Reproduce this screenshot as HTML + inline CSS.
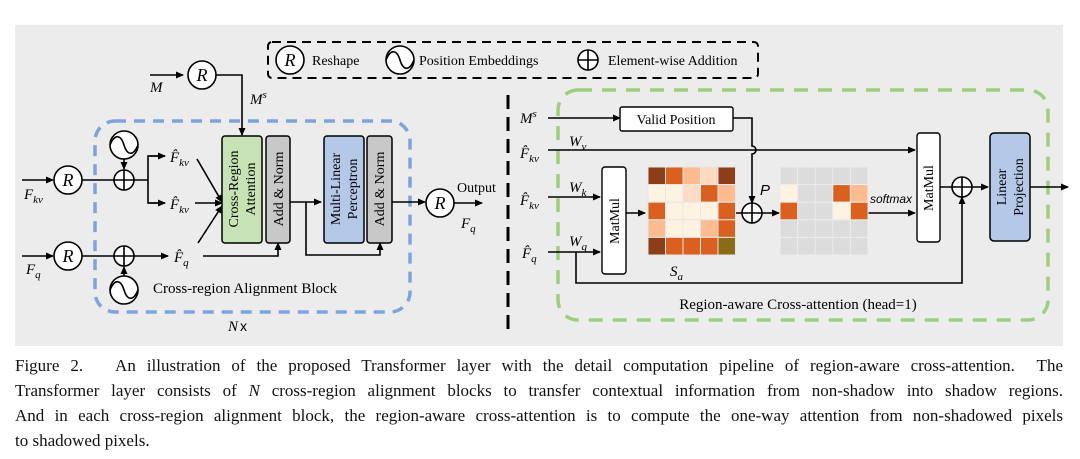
<!DOCTYPE html>
<html><head><meta charset="utf-8"><style>
body{margin:0;background:#fff;width:1080px;height:459px;overflow:hidden;font-family:"Liberation Serif",serif}
#cap{position:absolute;left:15px;top:353px;width:1048px;font-size:17px;line-height:25px;color:#111}
#cap div{text-align:justify;text-align-last:justify;white-space:nowrap}
#cap div.l{text-align-last:left}
svg{position:absolute;left:0;top:0}
</style></head><body>
<svg width="1080" height="350" viewBox="0 0 1080 350" font-family="Liberation Serif, serif">
<defs>
<marker id="a" markerWidth="8" markerHeight="8" refX="7" refY="4" orient="auto" markerUnits="userSpaceOnUse"><path d="M0,0.5 L8,4 L0,7.5z" fill="#000"/></marker>
<g id="pe"><circle r="14" fill="#fff" stroke="#000" stroke-width="1.6"/><path d="M-14,0 C-9,-12 -3,-10 0,0 S9,12 14,0" fill="none" stroke="#000" stroke-width="1.6"/></g>
<g id="pl"><circle r="10" fill="#fff" stroke="#000" stroke-width="1.6"/><path d="M-10,0H10M0,-10V10" stroke="#000" stroke-width="1.6"/></g>
<g id="R"><circle r="14" fill="#fff" stroke="#000" stroke-width="1.6"/><text y="6" text-anchor="middle" font-size="18" font-style="italic">R</text></g>
</defs>
<rect x="15" y="25" width="1048" height="321" fill="#ececec"/>
<rect x="268" y="42" width="490" height="36" rx="4" fill="none" stroke="#000" stroke-width="2" stroke-dasharray="9,6"/>
<use href="#R" x="290" y="60"/><text x="312" y="65" font-size="14">Reshape</text>
<use href="#pe" x="400" y="60"/><text x="419" y="65" font-size="14">Position Embeddings</text>
<use href="#pl" x="588" y="60"/><text x="608" y="65" font-size="14">Element-wise Addition</text>
<rect x="95" y="121" width="315" height="191" rx="20" fill="none" stroke="#7fa4dc" stroke-width="3.5" stroke-dasharray="11,8"/>
<g stroke="#000" stroke-width="1.6" fill="none">
<path d="M150,75H183" marker-end="url(#a)"/>
<path d="M216,75H242V135" marker-end="url(#a)"/>
<path d="M22,180H53" marker-end="url(#a)"/>
<path d="M82,180H114M134,180H148V156H165M148,180V203H165"/>
<path d="M148,156H165" marker-end="url(#a)"/><path d="M148,203H165" marker-end="url(#a)"/>
<path d="M124,159V169" marker-end="url(#a)"/>
<path d="M22,256H53" marker-end="url(#a)"/>
<path d="M82,256H114M134,256H168" marker-end="url(#a)"/>
<path d="M124,276V267" marker-end="url(#a)"/>
<path d="M197,159L222,202" marker-end="url(#a)"/>
<path d="M195,203H222" marker-end="url(#a)"/>
<path d="M198,243L222,206" marker-end="url(#a)"/>
<path d="M203,256H278V243" marker-end="url(#a)"/>
<path d="M290,202H321" marker-end="url(#a)"/>
<path d="M306,202V255H380V243" marker-end="url(#a)"/>
<path d="M392,202H425" marker-end="url(#a)"/>
<path d="M454,203H482" marker-end="url(#a)"/>
</g>
<use href="#R" x="202" y="75"/><use href="#R" x="68" y="180"/><use href="#R" x="68" y="256"/><use href="#R" x="440" y="203"/>
<use href="#pl" x="124" y="180"/><use href="#pl" x="124" y="256"/>
<use href="#pe" x="124" y="145"/><use href="#pe" x="124" y="290"/>
<rect x="222" y="136" width="40" height="107" rx="3" fill="#c7e3b5" stroke="#000" stroke-width="1.5"/>
<rect x="266" y="136" width="24" height="107" rx="3" fill="#c8c8c8" stroke="#000" stroke-width="1.5"/>
<rect x="324" y="136" width="40" height="107" rx="3" fill="#b4c8e8" stroke="#000" stroke-width="1.5"/>
<rect x="367" y="136" width="25" height="107" rx="3" fill="#c8c8c8" stroke="#000" stroke-width="1.5"/>
<g font-size="14" text-anchor="middle">
<text transform="translate(238,189) rotate(-90)">Cross-Region</text>
<text transform="translate(255,189) rotate(-90)">Attention</text>
<text transform="translate(283,189) rotate(-90)">Add &amp; Norm</text>
<text transform="translate(340,189) rotate(-90)">Multi-Linear</text>
<text transform="translate(357,189) rotate(-90)">Perceptron</text>
<text transform="translate(384,189) rotate(-90)">Add &amp; Norm</text>
</g>
<g font-size="15" font-style="italic">
<text x="150" y="92">M</text>
<text x="250" y="104">M<tspan font-size="11" dy="-6">s</tspan></text>
<text x="24" y="199">F<tspan font-size="11" dy="4">kv</tspan></text>
<text x="26" y="274">F<tspan font-size="11" dy="4">q</tspan></text>
<text x="170" y="162">F̂<tspan font-size="11" dy="4">kv</tspan></text>
<text x="170" y="209">F̂<tspan font-size="11" dy="4">kv</tspan></text>
<text x="174" y="262">F̂<tspan font-size="11" dy="4">q</tspan></text>
<text x="461" y="228">F<tspan font-size="11" dy="4">q</tspan></text>
<text x="228" y="331">N</text>
</g>
<text x="240" y="331" font-size="14" font-family="Liberation Sans, sans-serif">x</text>
<text x="457" y="192" font-size="14">Output</text>
<text x="153" y="293" font-size="15">Cross-region Alignment Block</text>
<path d="M508,95V330" stroke="#000" stroke-width="3" stroke-dasharray="14,8"/>
<rect x="558" y="90" width="490" height="230" rx="20" fill="none" stroke="#9ccf7d" stroke-width="3.5" stroke-dasharray="14,10"/>
<g stroke="#000" stroke-width="1.6" fill="none">
<path d="M548,118H620" marker-end="url(#a)"/>
<path d="M733,118H752V146A4,4 0 0 1 752,154V203" marker-end="url(#a)"/>
<path d="M548,150H915" marker-end="url(#a)"/>
<path d="M548,197H600" marker-end="url(#a)"/>
<path d="M548,252H600" marker-end="url(#a)"/>
<path d="M576,252V283H962V197" marker-end="url(#a)"/>
<path d="M626,213H645" marker-end="url(#a)"/>
<path d="M735,213H742M762,213H779" marker-end="url(#a)"/>
<path d="M868,213H915" marker-end="url(#a)"/>
<path d="M940,187H952M972,187H988" marker-end="url(#a)"/>
<path d="M1030,187H1068" marker-end="url(#a)"/>
</g>
<rect x="620" y="107" width="113" height="24" rx="2" fill="#fff" stroke="#000" stroke-width="1.4"/>
<text x="676" y="124" font-size="14" text-anchor="middle">Valid Position</text>
<rect x="602" y="167" width="24" height="107" rx="3" fill="#fff" stroke="#000" stroke-width="1.4"/>
<rect x="917" y="133" width="23" height="109" rx="3" fill="#fff" stroke="#000" stroke-width="1.4"/>
<rect x="990" y="133" width="40" height="108" rx="4" fill="#b4c8e8" stroke="#000" stroke-width="1.5"/>
<g font-size="14" text-anchor="middle">
<text transform="translate(619,221) rotate(-90)">MatMul</text>
<text transform="translate(933,188) rotate(-90)">MatMul</text>
<text transform="translate(1006,187) rotate(-90)">Linear</text>
<text transform="translate(1023,187) rotate(-90)">Projection</text>
</g>
<use href="#pl" x="752" y="213"/><use href="#pl" x="962" y="187"/>
<g stroke="#e6e6e6" stroke-width="1">
<rect x="648" y="167" width="17.5" height="17.6" fill="#8b3e17"/><rect x="665.5" y="167" width="17.5" height="17.6" fill="#d9601e"/><rect x="683" y="167" width="17.5" height="17.6" fill="#fdbb8f"/><rect x="700.5" y="167" width="17.5" height="17.6" fill="#fdd9c0"/><rect x="718" y="167" width="17.5" height="17.6" fill="#8b3e17"/>
<rect x="648" y="184.6" width="17.5" height="17.6" fill="#fef3e2"/><rect x="665.5" y="184.6" width="17.5" height="17.6" fill="#fef3e2"/><rect x="683" y="184.6" width="17.5" height="17.6" fill="#fddcc5"/><rect x="700.5" y="184.6" width="17.5" height="17.6" fill="#d9601e"/><rect x="718" y="184.6" width="17.5" height="17.6" fill="#fdbb8f"/>
<rect x="648" y="202.2" width="17.5" height="17.6" fill="#d9601e"/><rect x="665.5" y="202.2" width="17.5" height="17.6" fill="#fef3e2"/><rect x="683" y="202.2" width="17.5" height="17.6" fill="#fef3e2"/><rect x="700.5" y="202.2" width="17.5" height="17.6" fill="#fef3e2"/><rect x="718" y="202.2" width="17.5" height="17.6" fill="#d9601e"/>
<rect x="648" y="219.8" width="17.5" height="17.6" fill="#fdbb8f"/><rect x="665.5" y="219.8" width="17.5" height="17.6" fill="#fef3e2"/><rect x="683" y="219.8" width="17.5" height="17.6" fill="#fef3e2"/><rect x="700.5" y="219.8" width="17.5" height="17.6" fill="#fdbb8f"/><rect x="718" y="219.8" width="17.5" height="17.6" fill="#d9601e"/>
<rect x="648" y="237.4" width="17.5" height="17.6" fill="#8b3e17"/><rect x="665.5" y="237.4" width="17.5" height="17.6" fill="#d9601e"/><rect x="683" y="237.4" width="17.5" height="17.6" fill="#d9601e"/><rect x="700.5" y="237.4" width="17.5" height="17.6" fill="#d9601e"/><rect x="718" y="237.4" width="17.5" height="17.6" fill="#8b6b1a"/>
</g>
<g stroke="#ececec" stroke-width="1" fill="#dcdcdc">
<rect x="780" y="167" width="88" height="88"/>
<path d="M797.6,167V255M815.2,167V255M832.8,167V255M850.4,167V255M780,184.6H868M780,202.2H868M780,219.8H868M780,237.4H868" fill="none"/>
<rect x="780" y="184.6" width="17.6" height="17.6" fill="#fef3e2"/><rect x="832.8" y="184.6" width="17.6" height="17.6" fill="#d9601e"/><rect x="850.4" y="184.6" width="17.6" height="17.6" fill="#fdbb8f"/>
<rect x="780" y="202.2" width="17.6" height="17.6" fill="#d9601e"/><rect x="832.8" y="202.2" width="17.6" height="17.6" fill="#fef3e2"/><rect x="850.4" y="202.2" width="17.6" height="17.6" fill="#d9601e"/>
</g>
<g font-size="15" font-style="italic">
<text x="520" y="123">M<tspan font-size="11" dy="-6">s</tspan></text>
<text x="520" y="158">F̂<tspan font-size="11" dy="4">kv</tspan></text>
<text x="520" y="205">F̂<tspan font-size="11" dy="4">kv</tspan></text>
<text x="522" y="258">F̂<tspan font-size="11" dy="4">q</tspan></text>
<text x="569" y="146">W<tspan font-size="11" dy="4">v</tspan></text>
<text x="569" y="192">W<tspan font-size="11" dy="4">k</tspan></text>
<text x="569" y="246">W<tspan font-size="11" dy="4">q</tspan></text>
<text x="670" y="276">S<tspan font-size="11" dy="4">a</tspan></text>
<text x="760" y="195" font-family="Liberation Sans, sans-serif">P</text>
<text x="870" y="203" font-size="12" font-family="Liberation Sans, sans-serif">softmax</text>
</g>
<text x="798" y="309" font-size="15" text-anchor="middle">Region-aware Cross-attention (head=1)</text>
</svg>
<div id="cap">
<div>Figure 2.&nbsp;&nbsp; An illustration of the proposed Transformer layer with the detail computation pipeline of region-aware cross-attention.&nbsp; The</div>
<div>Transformer layer consists of <i>N</i> cross-region alignment blocks to transfer contextual information from non-shadow into shadow regions.</div>
<div>And in each cross-region alignment block, the region-aware cross-attention is to compute the one-way attention from non-shadowed pixels</div>
<div class="l">to shadowed pixels.</div>
</div>
</body></html>
